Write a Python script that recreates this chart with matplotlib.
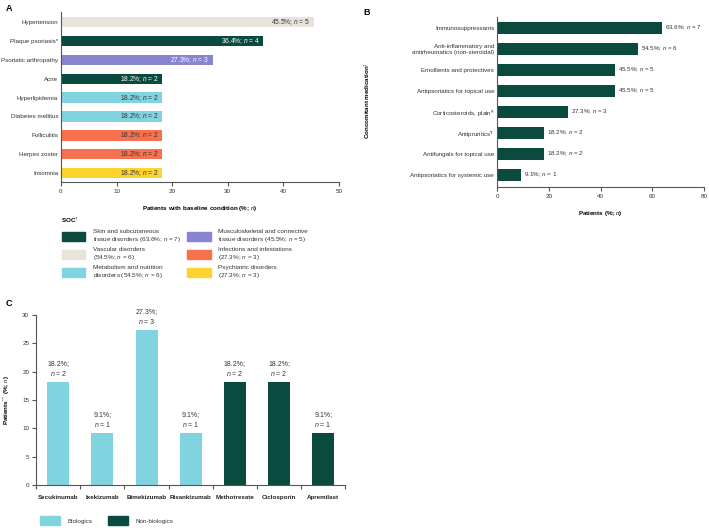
import matplotlib
matplotlib.use("Agg")
import matplotlib.pyplot as plt
from matplotlib.patches import Patch

plt.rcParams['font.family'] = ['Liberation Sans', 'DejaVu Sans']
plt.rcParams['mathtext.fontset'] = 'custom'
plt.rcParams['mathtext.it'] = 'Liberation Sans:italic'
plt.rcParams['mathtext.rm'] = 'Liberation Sans'
plt.rcParams['font.size'] = 4.5

# colours
DARK = '#0b4b3f'
BEIGE = '#e8e4db'
PURPLE = '#8884d4'
CYAN = '#7fd4df'
ORANGE = '#f5714f'
YELLOW = '#fed22f'
SPINE = '#555555'
TXT = '#333333'

# Panel A data
a_conditions = ['Hypertension', 'Plaque psoriasis*', 'Psoriatic arthropathy', 'Acne',
                'Hyperlipidemia', 'Diabetes mellitus', 'Folliculitis', 'Herpes zoster', 'Insomnia']
a_pct = [45.5, 36.4, 27.3, 18.2, 18.2, 18.2, 18.2, 18.2, 18.2]
a_n = [5, 4, 3, 2, 2, 2, 2, 2, 2]
a_soc = ['vasc', 'skin', 'musc', 'skin', 'meta', 'meta', 'inf', 'inf', 'psy']

soc_keys = ['skin', 'vasc', 'meta', 'musc', 'inf', 'psy']
soc_labels = ['Skin and subcutaneous\ntissue disorders (63.6%; $n$ = 7)',
              'Vascular disorders\n(54.5%; $n$ = 6)',
              'Metabolism and nutrition\ndisorders (54.5%; $n$ = 6)',
              'Musculoskeletal and connective\ntissue disorders (45.5%; $n$ = 5)',
              'Infections and infestations\n(27.3%; $n$ = 3)',
              'Psychiatric disorders\n(27.3%; $n$ = 3)']
soc_colors = {'skin': DARK, 'vasc': BEIGE, 'meta': CYAN, 'musc': PURPLE, 'inf': ORANGE, 'psy': YELLOW}
dark_socs = ['skin', 'musc']

# Panel B data
b_meds = ['Immunosuppressants', 'Anti-inflammatory and\nantirheumatics (non-steroidal)',
          'Emollients and protectives', 'Antipsoriatics for topical use',
          'Corticosteroids, plain$^{\u00a7}$', 'Antipruritics$^{\u00b6}$',
          'Antifungals for topical use', 'Antipsoriatics for systemic use']
b_pct = [63.6, 54.5, 45.5, 45.5, 27.3, 18.2, 18.2, 9.1]
b_n = [7, 6, 5, 5, 3, 2, 2, 1]

# Panel C data
c_drugs = ['Secukinumab', 'Ixekizumab', 'Bimekizumab', 'Risankizumab',
           'Methotrexate', 'Ciclosporin', 'Apremilast']
c_pct = [18.2, 9.1, 27.3, 9.1, 18.2, 18.2, 9.1]
c_n = [2, 1, 3, 1, 2, 2, 1]
c_group = ['bio', 'bio', 'bio', 'bio', 'non', 'non', 'non']
group_colors = {'bio': CYAN, 'non': DARK}


def style(ax):
    for s in ['top', 'right']:
        ax.spines[s].set_visible(False)
    for s in ['left', 'bottom']:
        ax.spines[s].set_color(SPINE)
        ax.spines[s].set_linewidth(0.8)
    ax.tick_params(colors=SPINE, labelcolor=TXT, width=0.8, length=3, pad=2)


fig = plt.figure(figsize=(7.09, 5.28), dpi=100)

# ---- Panel A ----
axA = fig.add_axes([0.086, 0.655, 0.392, 0.322])
style(axA)
ya = range(len(a_conditions))
axA.barh(ya, a_pct, height=0.55, color=[soc_colors[s] for s in a_soc])
for y, p, n, s in zip(ya, a_pct, a_n, a_soc):
    c = 'white' if s in dark_socs else TXT
    axA.text(p - 0.6, y, f'{p}%; $n$ = {n}', ha='right', va='center', color=c, fontsize=4.8)
axA.set_xlim(0, 50)
axA.set_ylim(8.48, -0.53)
axA.set_yticks(list(ya))
axA.set_yticklabels(a_conditions)
axA.tick_params(axis='y', length=0)
axA.set_xlabel('Patients with baseline condition (%; $n$)', fontweight='bold', labelpad=7)
fig.text(0.008, 0.992, 'A', fontweight='bold', fontsize=6.5, va='top')

fig.text(0.086, 0.583, 'SOC$^{\u2020}$', fontweight='bold', va='center')
handles = [Patch(color=soc_colors[k]) for k in soc_keys]
fig.legend(handles, soc_labels, loc='upper left', bbox_to_anchor=(0.079, 0.578), ncol=2,
           frameon=False, handlelength=3.7, handleheight=1.8, labelspacing=0.45,
           columnspacing=0.9, handletextpad=1.2, labelcolor=TXT, fontsize=4.6)

# ---- Panel B ----
axB = fig.add_axes([0.701, 0.646, 0.292, 0.322])
style(axB)
yb = range(len(b_meds))
axB.barh(yb, b_pct, height=0.6, color=DARK)
for y, p, n in zip(yb, b_pct, b_n):
    axB.text(p + 1.2, y, f'{p}%; $n$ = {n}', ha='left', va='center', color=TXT)
axB.set_xlim(0, 80)
axB.set_xticks([0, 20, 40, 60, 80])
axB.set_ylim(7.57, -0.52)
axB.set_yticks(list(yb))
axB.set_yticklabels(b_meds, ha='right')
axB.tick_params(axis='y', length=0)
axB.set_xlabel('Patients (%; $n$)', fontweight='bold', labelpad=7)
fig.text(0.518, 0.81, 'Concomitant medication$^{\u2021}$', fontweight='bold', rotation=90,
         ha='center', va='center')
fig.text(0.513, 0.985, 'B', fontweight='bold', fontsize=6.5, va='top')

# ---- Panel C ----
axC = fig.add_axes([0.051, 0.0814, 0.436, 0.322])
style(axC)
xc = range(len(c_drugs))
axC.bar(xc, c_pct, width=0.5, color=[group_colors[g] for g in c_group])
for x, p, n in zip(xc, c_pct, c_n):
    axC.text(x, p + 0.7, f'{p}%;\n$n$ = {n}', ha='center', va='bottom', color=TXT,
             fontsize=5.0, linespacing=1.3)
axC.set_xlim(-0.5, 6.5)
axC.set_ylim(0, 30)
axC.set_yticks([0, 5, 10, 15, 20, 25, 30])
axC.set_xticks(list(xc))
axC.set_xticklabels(c_drugs, fontweight='bold', color='#222222')
axC.set_xticks([x + 0.5 for x in range(-1, 7)], minor=True)
axC.tick_params(axis='x', which='major', length=0, pad=7)
axC.tick_params(axis='x', which='minor', length=3, color=SPINE, width=0.8)
axC.set_ylabel('Patients$^{**}$ (%; $n$)', fontweight='bold', labelpad=7)
fig.text(0.008, 0.433, 'C', fontweight='bold', fontsize=6.5, va='top')

fig.legend([Patch(color=CYAN), Patch(color=DARK)], ['Biologics', 'Non-biologics'],
           loc='lower left', bbox_to_anchor=(0.048, -0.005), ncol=2, frameon=False,
           handlelength=3.3, handleheight=1.8, columnspacing=2.4, handletextpad=1.2,
           labelcolor=TXT)

fig.savefig('out.png', dpi=100)
